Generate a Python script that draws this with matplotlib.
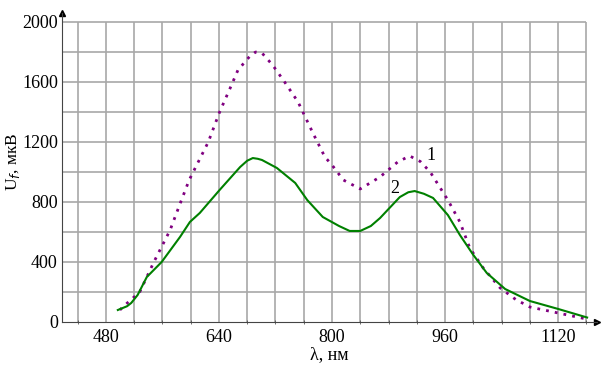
import numpy as np
import matplotlib.pyplot as plt

# ---- данные ----
wl1 = [500, 504, 528, 548, 571, 586, 598, 625, 641, 656, 667, 684, 692, 701,
       716, 733, 752, 773, 790, 800, 816, 840, 868, 893, 910, 925, 939, 964,
       981, 995, 1014, 1038, 1060, 1080, 1120, 1160]
u1 = [80, 100, 200, 400, 613, 800, 947, 1200, 1400, 1560, 1680, 1773, 1800, 1793,
      1713, 1600, 1467, 1260, 1100, 1047, 947, 887, 967, 1067, 1107, 1070, 1000, 813,
      667, 493, 360, 227, 150, 100, 60, 20]

wl2 = [497, 510, 516, 525, 538, 559, 585, 599, 613, 641, 670, 680, 688, 695, 701,
       722, 748, 765, 787, 810, 825, 840, 855, 868, 896, 908, 917, 930, 943, 964,
       981, 1000, 1019, 1045, 1080, 1120, 1161]
u2 = [80, 105, 127, 180, 300, 400, 567, 667, 727, 880, 1033, 1075, 1093, 1088, 1080,
      1027, 927, 813, 700, 640, 607, 607, 640, 693, 833, 865, 873, 855, 827, 713,
      580, 447, 327, 220, 140, 87, 30]

xticks = [480, 640, 800, 960, 1120]
yticks = [0, 400, 800, 1200, 1600, 2000]

plt.rcParams['font.family'] = ['Liberation Serif', 'DejaVu Serif']

fig = plt.figure(figsize=(6.05, 3.66), dpi=100)
ax = fig.add_axes([62/605, 1-322/366, 535/605, 309/366])

xmin, xmax = 418, 1175
ymax = 2060
ax.set_xlim(xmin, xmax)
ax.set_ylim(0, ymax)

#-------------сетка--------------
gx = np.arange(440, 1161, 40)
gy = np.arange(200, 2001, 200)
ax.vlines(gx, 0, 2000, color='#a8a8a8', lw=1.2, zorder=0)
ax.hlines(gy, xmin, 1160, color='#a8a8a8', lw=1.2, zorder=0)

#-------------кривые--------------
ax.plot(wl1, u1, color='#800080', lw=2, linestyle=(0, (1, 2.2)))
ax.plot(wl2, u2, color='#008000', lw=1.5)

ax.text(940, 1113, '1', fontsize=13, ha='center', va='center')
ax.text(889, 887, '2', fontsize=13, ha='center', va='center')

#-------------оси--------------
for s in ['top', 'right']:
    ax.spines[s].set_visible(False)
ax.spines['left'].set_color('#444444')
ax.spines['bottom'].set_color('#444444')
ax.plot([xmax], [0], marker='>', color='black', ms=5, clip_on=False)
ax.plot([xmin], [ymax], marker='^', color='black', ms=5, clip_on=False)

ax.set_xticks(xticks)
ax.set_yticks(yticks)
ax.set_xticks(gx, minor=True)
ax.tick_params(axis='both', labelsize=13, length=0, pad=3)
ax.tick_params(axis='x', which='minor', length=3, direction='inout', color='#555555')
ax.tick_params(axis='x', pad=5)

ax.set_xlabel('λ, нм', fontsize=13, labelpad=0)
ax.set_ylabel(r'U$_{f}$, мкВ', fontsize=12.5)
ax.yaxis.set_label_coords(-0.074, 0.52)

plt.savefig('out.png', dpi=100)
